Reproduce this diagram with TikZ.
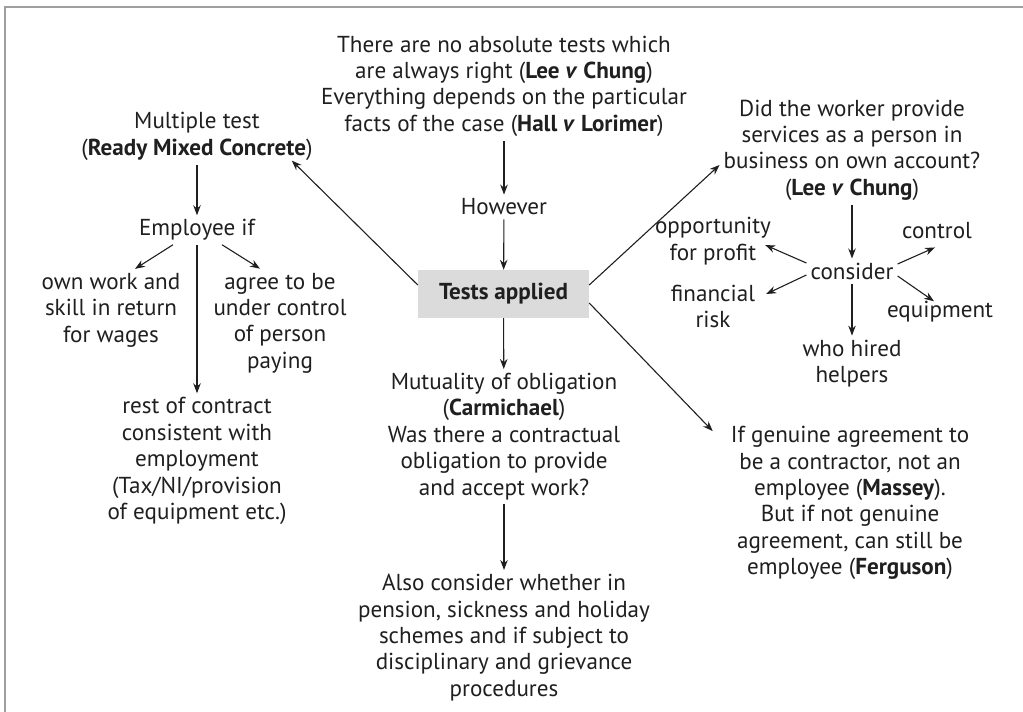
\documentclass[tikz,border=0pt]{standalone}
\usepackage{fontspec}
\setmainfont{PT Sans}
\usetikzlibrary{arrows.meta}
\begin{document}
\begin{tikzpicture}[x=1pt,y=-1pt,
  txt/.style={align=center,inner sep=4pt,font=\fontsize{23.1}{26.4}\selectfont,text=black!88},
  arr/.style={-{Stealth[length=10pt,width=7.5pt]},line width=1.1pt,draw=black!88},
  frame/.style={line width=2.5pt,draw=gray!75},
  testbox/.style={txt,fill=gray!28,minimum width=171pt,minimum height=48pt}
]
\useasboundingbox (0,0) rectangle (1023,712);
\draw[frame] (5,712) -- (5,7) -- (1023,7);

\node[txt] (top) at (504,86) {There are no absolute tests which\\are always right (\textbf{Lee \textit{v} Chung})\\Everything depends on the particular\\facts of the case (\textbf{Hall \textit{v} Lorimer})};
\node[txt] (how) at (504,207) {However};
\node[testbox] (tests) at (503.5,294) {\textbf{Tests applied}};
\node[txt] (mult) at (197,136.5) {Multiple test\\(\textbf{Ready Mixed Concrete})};
\node[txt] (emp) at (197,230) {Employee if};
\node[txt] (own) at (111,310) {own work and\\skill in return\\for wages};
\node[txt] (agree) at (280,323) {agree to be\\under control\\of person\\paying};
\node[txt] (rest) at (197,461) {rest of contract\\consistent with\\employment\\(Tax/NI/provision\\of equipment etc.)};
\node[txt] (mut) at (504,436.5) {Mutuality of obligation\\(\textbf{Carmichael})\\Was there a contractual\\obligation to provide\\and accept work?};
\node[txt] (also) at (504,637.5) {Also consider whether in\\pension, sickness and holiday\\schemes and if subject to\\disciplinary and grievance\\procedures};
\node[txt] (did) at (852,150) {Did the worker provide\\services as a person in\\business on own account?\\(\textbf{Lee \textit{v} Chung})};
\node[txt] (cons) at (852,271) {consider};
\node[txt] (opp) at (713,241) {opportunity\\for profit};
\node[txt] (ctrl) at (937,231) {control};
\node[txt] (fin) at (713,306.5) {financial\\risk};
\node[txt] (equip) at (940,312) {equipment};
\node[txt] (who) at (852,363.5) {who hired\\helpers};
\node[txt] (gen) at (850,503) {If genuine agreement to\\be a contractor, not an\\employee (\textbf{Massey}).\\But if not genuine\\agreement, can still be\\employee (\textbf{Ferguson})};

\draw[arr] (top) -- (how);
\draw[arr] (how) -- (tests);
\draw[arr] (tests) -- (mut);
\draw[arr] (mut) -- (also);
\draw[arr] (tests.174) -- ([xshift=-25pt,yshift=4pt]mult.south east);
\draw[arr] (tests.6) -- ([xshift=0pt,yshift=-15pt]did.west);
\draw[arr] (tests.-6) -- ([xshift=-14pt,yshift=-9pt]gen.north west);
\draw[arr] (mult) -- (emp);
\draw[arr] ([xshift=-24pt]emp.south) -- ([xshift=24pt]own.north);
\draw[arr] ([xshift=25pt]emp.south) -- ([xshift=-20pt]agree.north);
\draw[arr] (emp) -- (rest);
\draw[arr] (did) -- (cons);
\draw[arr] ([yshift=8pt]cons.west) -- ([xshift=-10pt,yshift=-4pt]opp.east);
\draw[arr] ([yshift=-4pt]cons.west) -- ([xshift=7pt,yshift=12.5pt]fin.east);
\draw[arr] ([yshift=7pt]cons.east) -- ([xshift=-2pt,yshift=-4pt]ctrl.south);
\draw[arr] ([yshift=-5pt]cons.east) -- ([xshift=-6pt,yshift=-4pt]equip.north);
\draw[arr] (cons) -- (who);
\end{tikzpicture}
\end{document}
